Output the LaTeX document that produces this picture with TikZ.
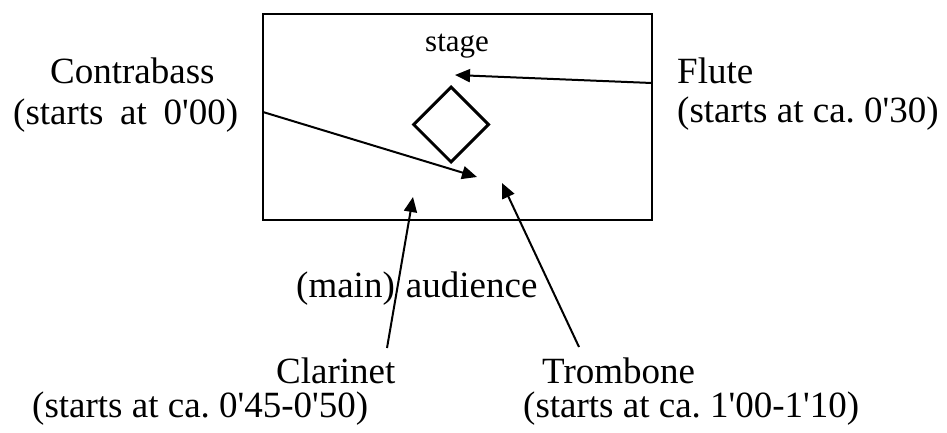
\documentclass[tikz,border=0pt]{standalone}
\usepackage{fontspec}
\newfontfamily\libserif{Liberation Serif}
\usetikzlibrary{arrows.meta,shapes.geometric}
\frenchspacing

\tikzset{
  label text/.style={anchor=base west, inner sep=0pt, font=\libserif\fontsize{37}{44}\selectfont},
  small text/.style={anchor=base west, inner sep=0pt, font=\libserif\fontsize{31}{37}\selectfont},
  pointer/.style={line width=2pt, -{Triangle[length=15pt,width=13pt]}},
}

\begin{document}
\begin{tikzpicture}[x=1pt, y=-1pt]
  \useasboundingbox (0,0) rectangle (947,432);

  % stage area
  \node[draw, line width=2pt, minimum width=389pt, minimum height=206pt, inner sep=0pt]
    (stagebox) at (457.5,117) {};
  \node[small text] (stage) at (425,51) {stage};
  \node[draw, diamond, aspect=1, line width=3pt, minimum width=76pt, minimum height=76pt,
        inner sep=0pt] (podium) at (451,124.5) {};

  % performers
  \node[label text] (contrabass) at (50,83) {Contrabass};
  \node[label text] (contrabasstime) at (13,124) {(starts\hspace{0.45em}at\hspace{0.45em}0'00)};
  \node[label text] (flute) at (677,83) {Flute};
  \node[label text] (flutetime) at (677,122) {(starts at ca. 0'30)};
  \node[label text] (audience) at (296,297) {(main)\hspace{0.3em}audience};
  \node[label text] (clarinet) at (276,383) {Clarinet};
  \node[label text] (clarinettime) at (32,417) {(starts at ca. 0'45-0'50)};
  \node[label text] (trombone) at (542,383) {Trombone};
  \node[label text] (trombonetime) at (523,417) {(starts at ca. 1'00-1'10)};

  % arrow ends
  \coordinate (cbfrom) at (263,112);
  \coordinate (cbto) at (477,177);
  \coordinate (flfrom) at (652,83);
  \coordinate (flto) at (455,75);
  \coordinate (clfrom) at (387,348);
  \coordinate (clto) at (413,197);
  \coordinate (tbfrom) at (579,347);
  \coordinate (tbto) at (502,183);

  \draw[pointer] (cbfrom) -- (cbto);
  \draw[pointer] (flfrom) -- (flto);
  \draw[pointer] (clfrom) -- (clto);
  \draw[pointer] (tbfrom) -- (tbto);
\end{tikzpicture}
\end{document}
